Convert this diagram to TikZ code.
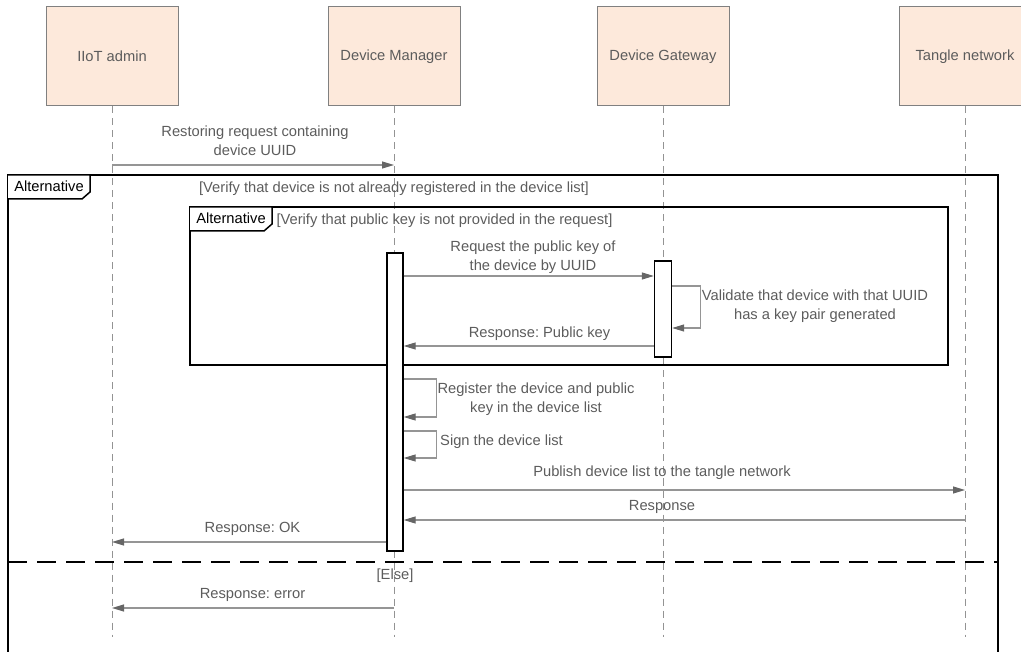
\documentclass[tikz,border=0pt]{standalone}
\usepackage{fontspec}
\setmainfont{Liberation Sans}
\usetikzlibrary{arrows.meta}
\definecolor{boxfill}{HTML}{FDE9DB}
\definecolor{boxline}{HTML}{808080}
\definecolor{txt}{HTML}{5C5C5C}
\definecolor{msgline}{HTML}{959595}
\definecolor{tipgray}{HTML}{666666}
\frenchspacing
\begin{document}
\begin{tikzpicture}[x=1pt,y=-1pt,
  font=\fontsize{14.7}{19}\selectfont,
  actor/.style={draw=boxline, fill=boxfill, line width=1pt, minimum width=132pt,
    minimum height=99pt, text=txt, inner sep=0pt},
  life/.style={draw=boxline!85, dash pattern=on 7pt off 5pt, line width=0.8pt},
  act/.style={draw=black, fill=white, line width=1.4pt, inner sep=0pt, minimum width=16pt},
  msg/.style={draw=msgline, line width=1.1pt,
    -{Triangle[length=12pt,width=7pt,color=tipgray]}},
  lbl/.style={text=txt, align=center, inner sep=0pt},
  frame/.style={draw=black, line width=1.8pt},
  tag/.style={draw=black, line width=1.5pt, fill=white},
  tagtext/.style={text=black, inner sep=0pt}
]
\useasboundingbox (0,0) rectangle (1021,652);
\clip (0,0) rectangle (1021,652);

% participants
\node[actor] (adm) at (112,56.5) {IIoT admin};
\node[actor] (mgr) at (394,56.5) {Device Manager};
\node[actor] (gw)  at (663,56.5) {Device Gateway};
\node[actor] (tan) at (965,56.5) {Tangle network};

% lifelines
\coordinate (lend) at (0,637);
\foreach \p in {adm,mgr,gw,tan}
  \draw[life] (\p.south) -- (\p.south |- lend);

% message rows
\coordinate (r1)  at (0,165);
\coordinate (r2)  at (0,276);
\coordinate (g1)  at (0,286);
\coordinate (g2)  at (0,328);
\coordinate (r3)  at (0,346);
\coordinate (m1)  at (0,379);
\coordinate (m2)  at (0,417);
\coordinate (m3)  at (0,431);
\coordinate (m4)  at (0,458);
\coordinate (r4)  at (0,490);
\coordinate (r5)  at (0,520);
\coordinate (r6)  at (0,542);
\coordinate (r7)  at (0,608);

% combined fragments
\draw[frame] (8,690) -- (8,175) -- (998,175) -- (998,690);
\draw[tag] (8,175) -- (90,175) -- (90,192) -- (82,199) -- (8,199);
\node[tagtext] (t1) at (49,186) {Alternative};
\node[lbl] (c1) at (394,189) {[Verify that device is not already registered in the device list]};

\draw[frame] (190,207) rectangle (948,365);
\draw[tag] (190,207) -- (272,207) -- (272,224) -- (264,231) -- (190,231);
\node[tagtext] (t2) at (231,218) {Alternative};
\node[lbl] (c2) at (444.5,221) {[Verify that public key is not provided in the request]};

\draw[black, line width=1.8pt, dash pattern=on 19pt off 10pt] (8,562) -- (998,562);
\node[lbl] (c3) at (395,576) {[Else]};

% activations
\node[act, minimum height=298pt] (actM) at (395,402) {};
\node[act, minimum height=96pt, minimum width=17pt] (actG) at (663,309) {};

% messages
\draw[msg] (adm |- r1) -- (mgr |- r1);
\node[lbl] at (255,140.5) {Restoring request containing\\device UUID};

\draw[msg] (actM.east |- r2) -- (actG.west |- r2);
\node[lbl] at (533,257.5) {Request the public key of\\the device by UUID};

\draw[msg] (actG.east |- g1) -- ++(28,0) |- (actG.east |- g2);
\node[lbl] at (815,306) {Validate that device with that UUID\\has a key pair generated};

\draw[msg] (actG.west |- r3) -- (actM.east |- r3);
\node[lbl] at (539.5,334) {Response: Public key};

\draw[msg] (actM.east |- m1) -- ++(33,0) |- (actM.east |- m2);
\node[lbl] at (536,399.5) {Register the device and public\\key in the device list};

\draw[msg] (actM.east |- m3) -- ++(33,0) |- (actM.east |- m4);
\node[lbl, anchor=west] at (440,442) {Sign the device list};

\draw[msg] (actM.east |- r4) -- (tan |- r4);
\node[lbl] at (662,473) {Publish device list to the tangle network};

\draw[msg] (tan |- r5) -- (actM.east |- r5);
\node[lbl] at (662,507) {Response};

\draw[msg] (actM.west |- r6) -- (adm |- r6);
\node[lbl] at (252.5,529) {Response: OK};

\draw[msg] (mgr |- r7) -- (adm |- r7);
\node[lbl] at (252.5,595) {Response: error};
\end{tikzpicture}
\end{document}
